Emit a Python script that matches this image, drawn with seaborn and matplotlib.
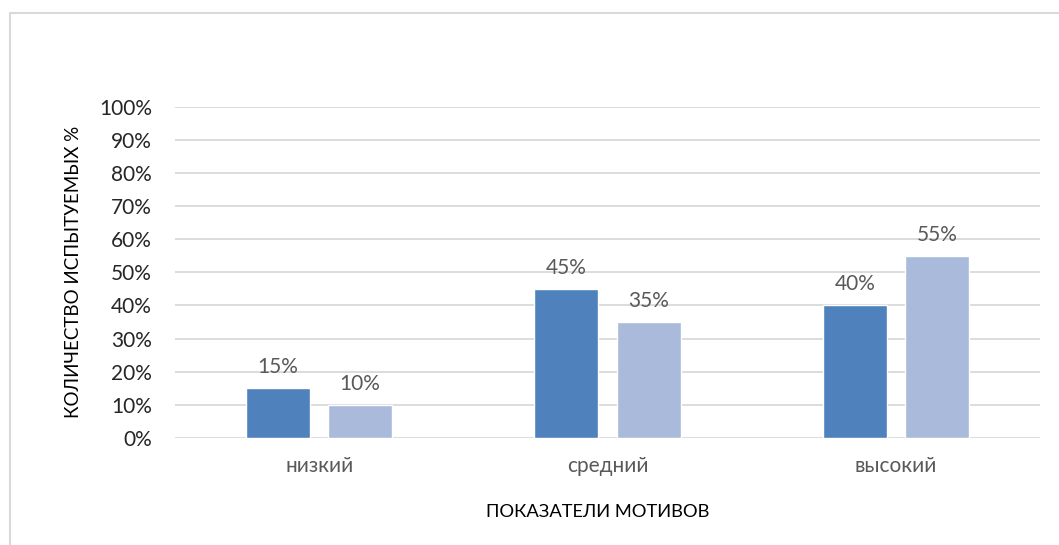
import matplotlib
matplotlib.use("Agg")
import matplotlib.pyplot as plt
import seaborn as sns
import pandas as pd
from matplotlib.patches import Rectangle
from matplotlib.ticker import PercentFormatter

categories = ["низкий", "средний", "высокий"]
series_names = ["Группа 1", "Группа 2"]
values_1 = [0.15, 0.45, 0.40]
values_2 = [0.10, 0.35, 0.55]
y_ticks = [0, 0.1, 0.2, 0.3, 0.4, 0.5, 0.6, 0.7, 0.8, 0.9, 1.0]

df = pd.DataFrame({
    "cat": categories * 2,
    "series": [series_names[0]] * 3 + [series_names[1]] * 3,
    "val": values_1 + values_2,
})

sns.set_theme(style="white")
plt.rcParams["font.family"] = ["Lato", "DejaVu Sans"]

W, H = 1059, 545
fig = plt.figure(figsize=(W / 100, H / 100), dpi=100)
fig.patch.set_facecolor("white")
# outer chart border (partially visible)
fig.patches.append(Rectangle((10 / W, -0.1), 1.2, 1 - 13 / H + 0.1,
                             transform=fig.transFigure, fill=False,
                             edgecolor="#d9d9d9", linewidth=1.5))

ax = fig.add_axes([175 / W, 1 - 438 / H, (1040 - 175) / W, (438 - 106.7) / H])
sns.barplot(data=df, x="cat", y="val", hue="series", order=categories,
            hue_order=series_names, palette=["#4f81bd", "#a9badb"],
            width=0.569, gap=0.22, ax=ax, legend=False, saturation=1)
ax.set_ylim(0, 1.0)
ax.set_xlim(-0.5, 2.5)
ax.set_yticks(y_ticks)
ax.yaxis.set_major_formatter(PercentFormatter(1.0, decimals=0))
ax.grid(axis="y", color="#d9d9d9", linewidth=1.3)
ax.set_axisbelow(True)
for s in ax.spines.values():
    s.set_visible(False)
ax.tick_params(axis="y", labelsize=15, labelcolor="#262626", length=0, pad=16.5)
ax.tick_params(axis="x", labelsize=15, labelcolor="#595959", length=0, pad=13)
for c in ax.containers:
    ax.bar_label(c, labels=[f"{v*100:.0f}%" for v in c.datavalues],
                 fontsize=15, color="#595959", padding=8)
ax.set_xlabel("ПОКАЗАТЕЛИ МОТИВОВ", fontsize=13.2, color="black")
ax.xaxis.set_label_coords(0.489, -0.2)
ax.set_ylabel("КОЛИЧЕСТВО ИСПЫТУЕМЫХ %", fontsize=13.5, color="black", labelpad=12)

fig.savefig("out.png", dpi=100, facecolor="white")
